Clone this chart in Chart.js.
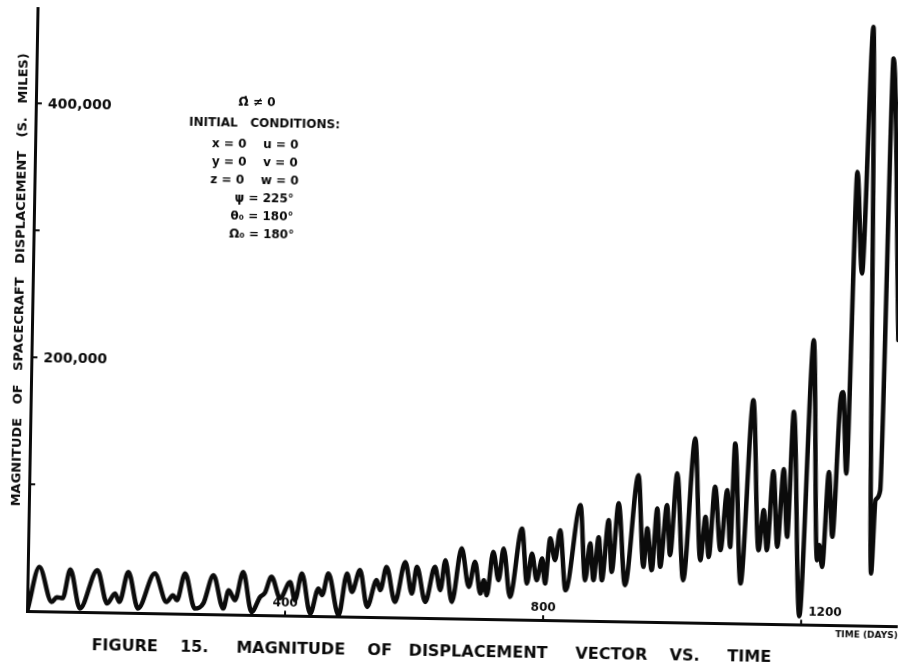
<!DOCTYPE html>
<html>
<head>
<meta charset="utf-8">
<title>Magnitude of displacement vector vs. time</title>
<script src="https://cdn.jsdelivr.net/npm/chart.js@4"></script>
<style>
  html, body { margin: 0; padding: 0; background: #fff; overflow: hidden; }
  #wrap {
    position: absolute; left: 0; top: 0; width: 898px; height: 670px;
    /* plotted sheet sits slightly skewed on the page */
    transform: rotate(1deg);
    transform-origin: 27px 611px;
  }
</style>
</head>
<body>
<div id="wrap"><canvas id="plot" width="898" height="670"></canvas></div>
<script>
const INK = '#0b0b0b';
const FONT = '"DejaVu Sans", Arial, sans-serif';

// time since launch (days)
const days = [
  1, 18, 38, 46, 55, 66, 82, 108, 124, 136, 143, 156, 172, 197, 216, 226, 232, 244, 260, 273,
  288, 304, 312, 322, 334, 348, 361, 368, 378, 392, 407, 415, 425, 439, 451, 457, 466, 483, 495, 503,
  515, 527, 541, 547, 556, 570, 585, 596, 603, 617, 631, 640, 647, 658, 672, 684, 693, 702, 707, 712,
  721, 730, 737, 748, 765, 774, 781, 789, 797, 802, 809, 817, 824, 834, 855, 864, 871, 877, 884, 890,
  899, 905, 914, 926, 944, 954, 959, 967, 974, 980, 989, 995, 1004, 1016, 1031, 1042, 1049, 1055, 1063, 1073,
  1082, 1088, 1093, 1105, 1120, 1132, 1139, 1145, 1153, 1161, 1169, 1176, 1183, 1197, 1212, 1223, 1226, 1231, 1239, 1246,
  1255, 1259, 1266, 1275, 1285, 1296, 1307, 1312, 1319, 1328, 1343
];

// magnitude of spacecraft displacement (statute miles)
const miles = [
  1500, 35000, 7700, 11400, 10700, 33400, 2900, 33300, 7200, 15100, 8600, 32300, 3700, 31400, 9200, 14600, 10700, 31900, 4400, 8500,
  30900, 4800, 19300, 11500, 33900, 2500, 14500, 17500, 30400, 13700, 26500, 12400, 33500, 2100, 21900, 16700, 33800, 1100, 34100, 19700,
  36900, 8100, 29200, 21400, 39800, 12400, 43800, 19200, 40300, 12800, 40500, 22200, 45900, 13200, 55400, 25200, 45000, 20200, 30700, 18900,
  53100, 30900, 55900, 17900, 71900, 28700, 52400, 31400, 48600, 28900, 64500, 47400, 71100, 23900, 91100, 32100, 61100, 32200, 66100, 32300,
  79700, 39000, 93000, 28700, 115500, 43400, 73700, 40900, 89500, 43600, 92300, 53000, 117400, 33400, 145200, 49400, 83600, 52100, 107400, 57600,
  104900, 60300, 141800, 31600, 176200, 58100, 89700, 58200, 120500, 61000, 122200, 69000, 167500, 6700, 224200, 51000, 62900, 45800, 120700, 69600,
  177300, 183700, 119700, 357300, 277400, 471700, 41300, 99100, 107000, 447100, 225400
];

const xTicks = [400, 800, 1200];
const yTicks = [100000, 200000, 300000, 400000];
const yLabeled = [200000, 400000];

const yTitle = 'MAGNITUDE   OF   SPACECRAFT   DISPLACEMENT   (S.   MILES)';
const caption = 'FIGURE    15.     MAGNITUDE    OF   DISPLACEMENT     VECTOR    VS.     TIME';
const noteLines = [
  'Ω̇ ≠ 0',
  'INITIAL   CONDITIONS:',
  'x = 0    u = 0',
  'y = 0    v = 0',
  'z = 0    w = 0',
  'ψ = 225°',
  'θ₀ = 180°',
  'Ω₀ = 180°'
];

// hand-lettered bits: inward tick marks and numbers on both axes,
// vertical axis caption, the initial-conditions block and the figure caption
const paperText = {
  id: 'paperText',
  afterDraw(chart) {
    const { ctx, chartArea: area, scales: { x, y } } = chart;
    ctx.save();
    ctx.fillStyle = INK;
    ctx.strokeStyle = INK;
    ctx.lineWidth = 2;

    ctx.beginPath();
    yTicks.forEach(v => {
      const py = y.getPixelForValue(v);
      ctx.moveTo(area.left, py);
      ctx.lineTo(area.left + 6, py);
    });
    xTicks.forEach(v => {
      const px = x.getPixelForValue(v);
      ctx.moveTo(px, area.bottom);
      ctx.lineTo(px, area.bottom - 5);
    });
    ctx.stroke();

    ctx.textBaseline = 'middle';
    ctx.font = `bold 14px ${FONT}`;
    ctx.textAlign = 'left';
    yLabeled.forEach(v => {
      ctx.fillText(v.toLocaleString('en-US'), area.left + 12, y.getPixelForValue(v) + 1);
    });

    ctx.font = `bold 12px ${FONT}`;
    xTicks.forEach((v, i) => {
      const px = x.getPixelForValue(v);
      const last = i === xTicks.length - 1;
      ctx.textAlign = last ? 'left' : 'center';
      ctx.fillText(String(v), last ? px + 7 : px, area.bottom - 12);
    });

    ctx.save();
    ctx.translate(15, 280);
    ctx.rotate(-Math.PI / 2);
    ctx.font = `bold 13px ${FONT}`;
    ctx.textAlign = 'center';
    ctx.fillText(yTitle, 0, 0);
    ctx.restore();

    const noteX = [248, 256, 247, 247, 247, 257, 255, 255];
    const noteY = [99, 120, 141, 159, 177, 195, 213, 231];
    ctx.font = `bold 12px ${FONT}`;
    ctx.textAlign = 'center';
    noteLines.forEach((t, i) => ctx.fillText(t, noteX[i], noteY[i]));

    ctx.font = `bold 16px ${FONT}`;
    ctx.fillText(caption, 432, 645);
    ctx.restore();
  }
};

new Chart(document.getElementById('plot'), {
  type: 'line',
  data: {
    datasets: [{
      data: days.map((d, i) => ({ x: d, y: miles[i] })),
      borderColor: INK,
      borderWidth: 4.5,
      borderJoinStyle: 'round',
      borderCapStyle: 'round',
      pointRadius: 0,
      cubicInterpolationMode: 'monotone',
      fill: false
    }]
  },
  options: {
    responsive: false,
    animation: false,
    devicePixelRatio: 1,
    layout: { padding: { left: 27, right: 0, top: 8, bottom: 44 } },
    plugins: {
      legend: { display: false },
      tooltip: { enabled: false },
      title: { display: false }
    },
    scales: {
      x: {
        type: 'linear',
        min: 0,
        max: 1350,
        grid: { display: false, drawTicks: false },
        border: { display: true, color: INK, width: 3 },
        ticks: { display: false },
        title: {
          display: true,
          text: 'TIME (DAYS)',
          align: 'end',
          color: INK,
          font: { family: FONT, size: 9, weight: 'bold' },
          padding: { top: 4, bottom: 0 }
        }
      },
      y: {
        min: 0,
        max: 475000,
        afterBuildTicks: scale => { scale.ticks = yTicks.map(v => ({ value: v })); },
        grid: { display: false, drawTicks: false },
        border: { display: true, color: INK, width: 3 },
        ticks: { display: false }
      }
    }
  },
  plugins: [paperText]
});
</script>
</body>
</html>
